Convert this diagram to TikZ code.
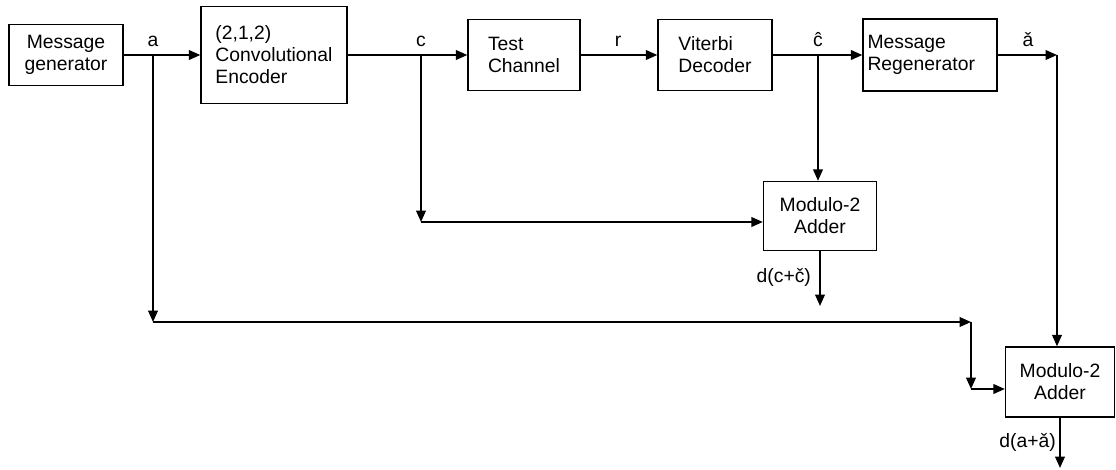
\documentclass[tikz,border=0pt]{standalone}
\usepackage{fontspec}
\setmainfont{Liberation Sans}
\usetikzlibrary{arrows.meta,positioning,calc}
\tikzset{
  block/.style={draw, line width=0.8pt, rectangle, align=center, inner sep=2pt, font=\fontsize{11}{12.5}\selectfont},
  blockl/.style={block, align=left},
  arrow/.style={-{Triangle[length=6.5pt,width=5.5pt]}, line width=1pt},
  sig/.style={anchor=base, inner sep=0pt, font=\fontsize{11}{12.5}\selectfont},
  outlbl/.style={anchor=east, inner sep=1pt, font=\fontsize{11}{12.5}\selectfont}
}
\begin{document}
\begin{tikzpicture}[x=0.02cm,y=-0.02cm]
  \useasboundingbox (0,0) rectangle (1116,470);
  % top row
  \node[block,minimum width=2.28cm,minimum height=1.22cm] (msggen) at (66,55) {Message\\generator};
  \node[blockl,minimum width=2.92cm,minimum height=1.94cm] (enc) at (274,55) {(2,1,2)\\Convolutional\\Encoder};
  \node[blockl,minimum width=2.24cm,minimum height=1.42cm] (chan) at (524,55) {Test\\Channel};
  \node[blockl,minimum width=2.28cm,minimum height=1.42cm] (vit) at (715,55) {Viterbi\\Decoder};
  \node[blockl,text width=2.5cm,inner xsep=0.09cm,minimum height=1.44cm] (regen) at (930,55) {Message\\Regenerator};
  % adders
  \node[block,minimum width=2.26cm,minimum height=1.38cm] (add1) at (820,216) {Modulo-2\\Adder};
  \node[block,minimum width=2.18cm,minimum height=1.40cm] (add2) at (1060,382) {Modulo-2\\Adder};

  \coordinate (abr) at (153,55);
  \coordinate (alow) at (153,322);
  \coordinate (ajoin) at (971,322);
  \coordinate (adown) at (971,389);
  \coordinate (cbr) at (421,55);
  \coordinate (clow) at (421,222);
  \coordinate (hbr) at (818,55);
  \coordinate (acorner) at (1057,55);
  \coordinate (dcout) at (820,306);
  \coordinate (daout) at (1060,468);

  \draw[arrow] (msggen.east) -- (enc.west);
  \draw[arrow] (enc.east) -- (chan.west);
  \draw[arrow] (chan.east) -- (vit.west);
  \draw[arrow] (vit.east) -- (regen.west);
  \draw[arrow] (regen.east) -- (acorner);
  \draw[arrow] (acorner) -- (acorner |- add2.north);
  \draw[arrow] (abr) -- (alow);
  \draw[arrow] (alow) -- (ajoin);
  \draw[arrow] (ajoin) -- (adown);
  \draw[arrow] (adown) -- (adown -| add2.west);
  \draw[arrow] (cbr) -- (clow);
  \draw[arrow] (clow) -- (clow -| add1.west);
  \draw[arrow] (hbr) -- (hbr |- add1.north);
  \draw[arrow] (add1.south) -- (dcout);
  \draw[arrow] (add2.south) -- (daout);

  % signal labels
  \node[sig] (la) at (153,46) {a};
  \node[sig] (lc) at (421,46) {c};
  \node[sig] (lr) at (618,46) {r};
  \node[sig] (lch) at (818,46) {ĉ};
  \node[sig] (lah) at (1028,46) {ǎ};
  \node[outlbl] (ldc) at (813,277) {d(c+č)};
  \node[outlbl] (lda) at (1058,442) {d(a+ǎ)};
\end{tikzpicture}
\end{document}
